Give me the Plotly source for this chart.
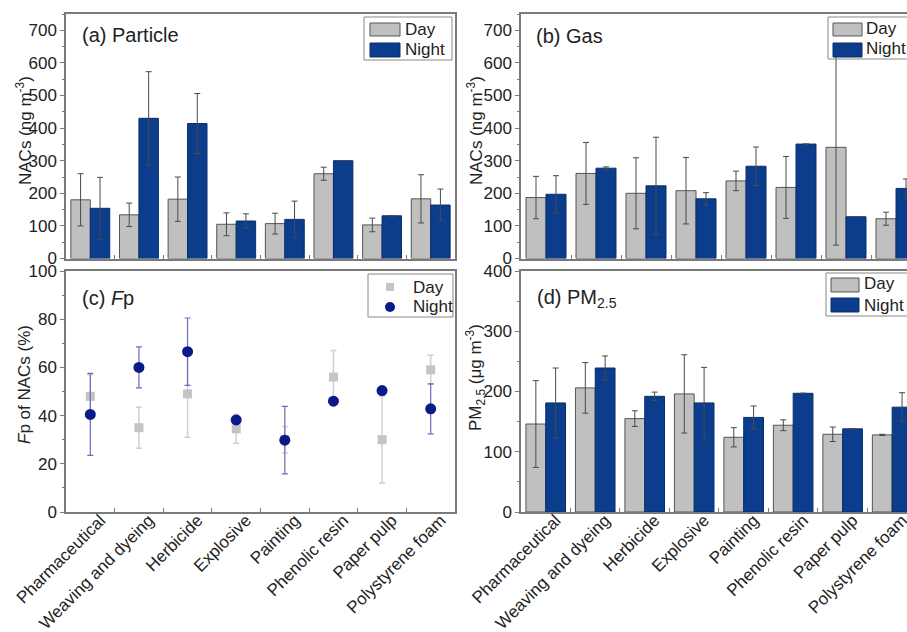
import plotly.graph_objects as go

W, H = 907, 632

categories = ["Pharmaceutical", "Weaving and dyeing", "Herbicide", "Explosive",
              "Painting", "Phenolic resin", "Paper pulp", "Polystyrene foam"]

# (a) Particle NACs (ng m-3)
particle_day = [180, 134, 182, 105, 107, 260, 103, 183]
particle_day_err = [80, 36, 68, 35, 32, 20, 21, 74]
particle_night = [154, 430, 414, 115, 120, 300, 131, 164]
particle_night_err = [95, 143, 92, 22, 56, None, None, 49]

# (b) Gas NACs (ng m-3)
gas_day = [187, 261, 200, 208, 238, 218, 341, 122]
gas_day_err = [65, 95, 109, 102, 30, 95, 300, 20]
gas_night = [197, 277, 223, 183, 283, 351, 128, 215]
gas_night_err = [57, 4, 149, 19, 59, None, None, 29]

# (c) Fp of NACs (%)
fp_day = [48, 35, 49, 34.5, 30, 56, 30, 59]
fp_day_err = [9, 8.5, 18, 6, 5.5, 11, 18, 6]
fp_night = [40.5, 60, 66.5, 38.2, 29.8, 46, 50.4, 42.8]
fp_night_err = [17, 8.5, 14, 1.5, 14, 1, 0, 10.4]

# (d) PM2.5 (ug m-3)
pm_day = [146, 206, 155, 196, 124, 144, 129, 128]
pm_day_err = [72, 42, 13, 65, 16, 9, 12, 1]
pm_night = [181, 239, 192, 181, 157, 197, 138, 174]
pm_night_err = [58, 20, 7, 59, 19, None, None, 24]

DAY_C = "#c0c0c0"
NIGHT_C = "#0b3d8c"
EDGE = "#555555"
FRAME = "#7a7a7a"
FONT = "Liberation Sans, Arial, sans-serif"

def px(x):
    return x / W

def py(y):
    return 1 - y / H

fig = go.Figure()

def bars(vals, errs, color, xa, ya):
    fig.add_trace(go.Bar(
        x=categories, y=vals, marker=dict(color=color, line=dict(color=EDGE if color == DAY_C else "#082f6e", width=1)),
        error_y=dict(type="data", array=errs, color="#4a4a4a", thickness=1, width=3),
        xaxis=xa, yaxis=ya, showlegend=False))

bars(particle_day, particle_day_err, DAY_C, "x", "y")
bars(particle_night, particle_night_err, NIGHT_C, "x", "y")
bars(gas_day, gas_day_err, DAY_C, "x2", "y2")
bars(gas_night, gas_night_err, NIGHT_C, "x2", "y2")
bars(pm_day, pm_day_err, DAY_C, "x4", "y4")
bars(pm_night, pm_night_err, NIGHT_C, "x4", "y4")

fig.add_trace(go.Scatter(
    x=categories, y=fp_day, mode="markers",
    marker=dict(symbol="square", size=9, color="#c4c4c4"),
    error_y=dict(type="data", array=fp_day_err, color="#d0d0d0", thickness=1.5, width=3),
    xaxis="x3", yaxis="y3", showlegend=False))
fig.add_trace(go.Scatter(
    x=categories, y=fp_night, mode="markers",
    marker=dict(symbol="circle", size=11, color="#0a1a86"),
    error_y=dict(type="data", array=fp_night_err, color="#6a6ac0", thickness=1.2, width=3),
    xaxis="x3", yaxis="y3", showlegend=False))

tickfont = dict(family=FONT, size=17, color="#222")

def xaxis(dom, anchor, rng, labels, mirror=True):
    return dict(domain=dom, anchor=anchor, type="category", categoryorder="array",
                categoryarray=categories, range=rng, showline=True, linecolor=FRAME,
                linewidth=1.5, mirror=mirror, ticks="inside", ticklen=4, tickcolor=FRAME,
                tickson="boundaries", showticklabels=labels, tickangle=-45,
                ticklabelshift=10, ticklabelstandoff=-10,
                tickfont=tickfont, showgrid=False, zeroline=False, automargin=False)

def yaxis(dom, anchor, rng, dtick, mirror):
    return dict(domain=dom, anchor=anchor, range=rng, dtick=dtick, showline=True,
                linecolor=FRAME, linewidth=1.5, mirror=mirror, ticks="outside",
                ticklen=4, tickcolor=FRAME, tickfont=tickfont, showgrid=False,
                zeroline=False, automargin=False,
                minor=dict(dtick=dtick / 2, ticks="outside", ticklen=2, tickcolor=FRAME))

top_y = [py(258.5), py(14)]
bot_y = [py(512), py(271)]
left_x = [px(66), px(455)]
right_x = [px(521), 1.0]

fig.update_layout(
    width=W, height=H, margin=dict(l=0, r=0, t=0, b=0, autoexpand=False),
    paper_bgcolor="white", plot_bgcolor="white",
    barmode="group", bargap=0.2, bargroupgap=0,
    font=dict(family=FONT, size=17, color="#222"),
    xaxis=xaxis(left_x, "y", [-0.5, 7.5], False),
    yaxis=yaxis(top_y, "x", [0, 750], 100, True),
    xaxis2=xaxis(right_x, "y2", [-0.5, 7.22], False),
    yaxis2=yaxis(top_y, "x2", [0, 750], 100, False),
    xaxis3=xaxis(left_x, "y3", [-0.5, 7.5], True),
    yaxis3=yaxis(bot_y, "x3", [0, 100], 20, True),
    xaxis4=xaxis(right_x, "y4", [-0.5, 7.3], True),
    yaxis4=yaxis(bot_y, "x4", [0, 400], 100, False),
)

# y-axis titles
def ytitle(text, x, y):
    fig.add_annotation(text=text, x=px(x), y=py(y), xref="paper", yref="paper",
                       xanchor="center", yanchor="middle", textangle=-90, showarrow=False,
                       font=dict(family=FONT, size=17, color="#222"))

ytitle("NACs (ng m<sup>-3</sup>)", 24, 131)
ytitle("NACs (ng m<sup>-3</sup>)", 475, 131)
ytitle("<i>F</i>p of NACs (%)", 24, 385)
ytitle("PM<sub>2.5</sub> (μg m<sup>-3</sup>)", 475, 378)

# panel labels
def label(text, x, y):
    fig.add_annotation(text=text, x=px(x), y=py(y), xref="paper", yref="paper",
                       xanchor="left", yanchor="middle", showarrow=False,
                       font=dict(family=FONT, size=20, color="#222"))

label("(a) Particle", 80, 35)
label("(b) Gas", 534, 36)
label("(c) <i>F</i>p", 80, 298)
label("(d) PM<sub>2.5</sub>", 535, 298)

# legends (drawn manually to match the swatch style)
def legend_box(x0, y0, x1, y1):
    fig.add_shape(type="rect", xref="paper", yref="paper", x0=px(x0), x1=px(x1),
                  y0=py(y0), y1=py(y1), line=dict(color="#888", width=1), layer="above")

def swatch(x0, y0, x1, y1, color, edge):
    fig.add_shape(type="rect", xref="paper", yref="paper", x0=px(x0), x1=px(x1),
                  y0=py(y0), y1=py(y1), fillcolor=color, line=dict(color=edge, width=1),
                  layer="above")

def legtext(text, x, y):
    fig.add_annotation(text=text, x=px(x), y=py(y), xref="paper", yref="paper",
                       xanchor="left", yanchor="middle", showarrow=False,
                       font=dict(family=FONT, size=17, color="#222"))

# (a)
legend_box(364, 17, 452, 60)
swatch(370, 23, 400, 36, DAY_C, EDGE)
swatch(370, 43, 400, 57, NIGHT_C, "#082f6e")
legtext("Day", 403, 29)
legtext("Night", 403, 50)
# (b)
legend_box(828, 17, 920, 59)
swatch(833, 23, 862, 36, DAY_C, EDGE)
swatch(833, 43, 862, 57, NIGHT_C, "#082f6e")
legtext("Day", 864, 28)
legtext("Night", 864, 49)
# (d)
legend_box(826, 273, 920, 316)
swatch(831, 278, 859, 292, DAY_C, EDGE)
swatch(831, 298, 859, 312, NIGHT_C, "#082f6e")
legtext("Day", 862, 284)
legtext("Night", 862, 305)
# (c)
legend_box(368, 274, 453, 317)
fig.add_shape(type="rect", xref="paper", yref="paper", x0=px(386), x1=px(394),
              y0=py(283), y1=py(291), fillcolor="#c4c4c4", line=dict(width=0), layer="above")
fig.add_shape(type="circle", xref="paper", yref="paper", x0=px(385), x1=px(395),
              y0=py(302), y1=py(312), fillcolor="#0a1a86", line=dict(width=0), layer="above")
legtext("Day", 411, 287)
legtext("Night", 411, 307)

fig.write_html("out.html", config={"displayModeBar": False},
               post_script="document.body.style.margin='0px';")
